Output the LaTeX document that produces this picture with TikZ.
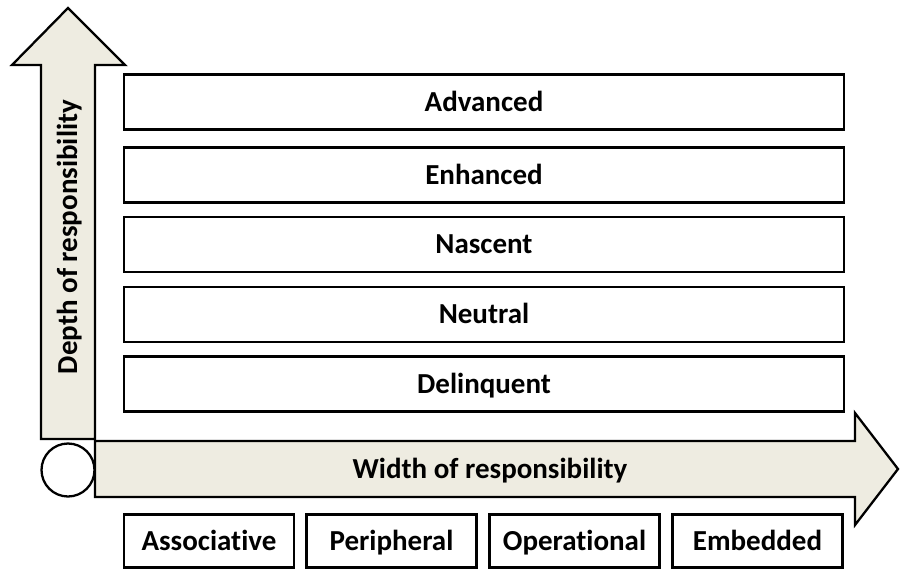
\documentclass[tikz,border=0pt]{standalone}
\usepackage{fontspec}
\setmainfont{Carlito}[Ligatures={NoCommon}]
\usepackage{tikz}
\usetikzlibrary{calc,positioning}

\definecolor{axisfill}{HTML}{EEECE1}

\begin{document}
\begin{tikzpicture}[x=0.02cm,y=-0.02cm,
  level/.style={draw,line width=1.4pt,minimum width=14.4cm,minimum height=1.1cm,text height=12pt,text depth=1.6pt,font=\fontsize{16.5}{19}\selectfont\bfseries},
  scope/.style={draw,line width=1.4pt,minimum width=3.4cm,minimum height=1.06cm,text height=12pt,text depth=1.6pt,font=\fontsize{16.5}{19}\selectfont\bfseries},
  axis/.style={draw,line width=1.3pt,fill=axisfill},
  axislabel/.style={text height=12pt,text depth=1.6pt,font=\fontsize{16.5}{19}\selectfont\bfseries}]
\useasboundingbox (0,0) rectangle (901,568);

% the two axes
\draw[axis] (41,439)--(41,65)--(12,65)--(68,8)--(125,65)--(95,65)--(95,439)--cycle;
\draw[axis] (95,441)--(855,441)--(855,413)--(898,469)--(855,525)--(855,497)--(95,497)--cycle;
\node (O) at (68,470)[circle,draw,line width=1.3pt,fill=white,minimum size=1.06cm,inner sep=0pt]{};

\node (depth) at (68,237)[axislabel,rotate=90]{Depth of responsibility};
\node (width) at (490,469)[axislabel]{Width of responsibility};

% levels
\node (adv) at (484,102)[level]{Advanced};
\node (enh) at (484,175)[level]{Enhanced};
\node (nas) at (484,244.5)[level]{Nascent};
\node (neu) at (484,314.5)[level]{Neutral};
\node (del) at (484,384)[level]{Delinquent};

% scopes
\node (ass) at (209,541)[scope]{Associative};
\node (per) at (391.5,541)[scope]{Peripheral};
\node (ope) at (574.5,541)[scope]{Operational};
\node (emb) at (757.5,541)[scope]{Embedded};

\end{tikzpicture}
\end{document}
